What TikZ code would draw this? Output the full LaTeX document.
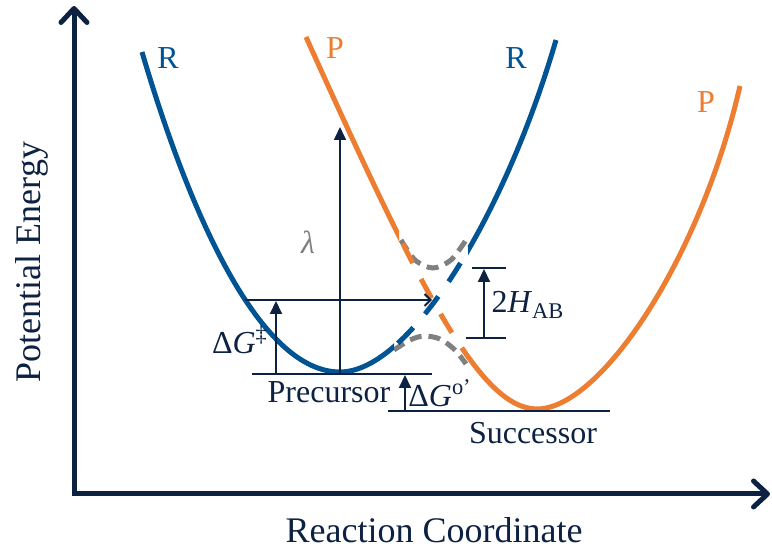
\documentclass[tikz,border=0pt]{standalone}
\usepackage{fontspec}
\setmainfont{Liberation Serif}
\usetikzlibrary{arrows.meta}
\definecolor{navy}{RGB}{13,34,66}
\definecolor{rblue}{RGB}{0,84,147}
\definecolor{porange}{RGB}{237,125,49}
\definecolor{tgray}{RGB}{128,128,128}
\tikzset{
  axisline/.style={line width=2.5pt, navy, line join=miter, {Straight Barb[length=7pt,width=13pt,round]}-{Straight Barb[length=7pt,width=13pt,round]}},
  curveR/.style={line width=2.5pt, rblue},
  curveP/.style={line width=2.5pt, porange},
  dsh/.style={dash pattern=on 11pt off 9pt},
  graydash/.style={line width=2.5pt, tgray, dash pattern=on 6pt off 3.5pt},
  hline/.style={line width=1pt, navy},
  uparr/.style={line width=1pt, navy, -{Triangle[length=6.5pt,width=6pt]}},
  lbl/.style={font=\fontsize{16}{18}\selectfont, text=navy, inner sep=0pt},
  axlbl/.style={font=\fontsize{18}{20}\selectfont, text=navy, inner sep=0pt}}
\newcommand{\rright}{(rmin) .. controls (410,372) and (505,215) .. (rtop)}
\newcommand{\pleft}{(ptop) .. controls (420,290) and (480,409) .. (pmin)}
\begin{document}
\begin{tikzpicture}[x=0.5pt,y=-0.5pt]
  \useasboundingbox (0,0) rectangle (772,550);
  % axes
  \coordinate (ytop) at (74,6);
  \coordinate (o) at (74,494);
  \coordinate (xend) at (770,494);
  \draw[axisline] (ytop) -- (o) -- (xend);
  \node[axlbl, rotate=90] (ylab) at (32,262) {Potential Energy};
  \node[axlbl] (xlab) at (434,530) {Reaction Coordinate};
  % avoided crossing
  \draw[graydash] plot[smooth] coordinates {(401,240) (415,260) (433,268) (451,260) (466,240)};
  \draw[graydash] plot[smooth] coordinates {(394,350) (410,340) (424,336) (440,339) (455,350) (466,364)};
  % reactant curve
  \coordinate (rtop-l) at (142,52);
  \coordinate (rmin) at (340,372);
  \coordinate (rtop) at (556,40);
  \draw[curveR] (rtop-l) .. controls (190,215) and (260,372) .. (rmin);
  \begin{scope}
    \clip (0,0) rectangle (394,550);
    \draw[curveR] \rright;
  \end{scope}
  \begin{scope}
    \clip (394,0) rectangle (468,550);
    \draw[curveR, dsh, dash phase=7pt] \rright;
  \end{scope}
  \begin{scope}
    \clip (468,0) rectangle (772,550);
    \draw[curveR] \rright;
  \end{scope}
  % product curve
  \coordinate (ptop) at (306,37);
  \coordinate (pmin) at (537,409);
  \coordinate (ptop-r) at (740,86);
  \begin{scope}
    \clip (0,0) rectangle (399,550);
    \draw[curveP] \pleft;
  \end{scope}
  \begin{scope}
    \clip (399,0) rectangle (466,550);
    \draw[curveP, dsh, dash phase=6pt] \pleft;
  \end{scope}
  \begin{scope}
    \clip (466,0) rectangle (772,550);
    \draw[curveP] \pleft;
  \end{scope}
  \draw[curveP] (pmin) .. controls (600,409) and (700,260) .. (ptop-r);
  \node[lbl, text=rblue] (rl) at (168,58) {R};
  \node[lbl, text=porange] (pl) at (335,48) {P};
  \node[lbl, text=rblue] (rr) at (516,58) {R};
  \node[lbl, text=porange] (pr) at (706,102) {P};
  % levels
  \coordinate (prec-l) at (252,374); \coordinate (prec-r) at (432,374);
  \coordinate (succ-l) at (388,411); \coordinate (succ-r) at (610,411);
  \coordinate (ts-l) at (245,300); \coordinate (ts-r) at (432,300);
  \draw[hline] (prec-l) -- (prec-r);
  \draw[hline] (succ-l) -- (succ-r);
  \draw[hline, -{Straight Barb[length=3pt,width=6pt]}] (ts-l) -- (ts-r);
  \node[lbl] (prec) at (329,392) {Precursor};
  \node[lbl] (succ) at (533,433) {Successor};
  % arrows
  \coordinate (lam-b) at (340,374); \coordinate (lam-t) at (340,127);
  \draw[uparr, line width=0.8pt] (lam-b) -- (lam-t);
  \node[lbl, text=tgray] (lam) at (308,242) {\textit{λ}};
  \coordinate (dgts-b) at (276,374); \coordinate (dgts-t) at (276,301);
  \draw[uparr] (dgts-b) -- (dgts-t);
  \node[lbl] (dgts) at (240,340) {Δ\textit{G}\textsuperscript{‡}};
  \coordinate (dg0-b) at (405,411); \coordinate (dg0-t) at (405,375);
  \draw[uparr] (dg0-b) -- (dg0-t);
  \node[lbl] (dg0) at (440,393) {Δ\textit{G}\textsuperscript{o’}};
  \coordinate (hab-tl) at (472,268); \coordinate (hab-tr) at (506,268);
  \coordinate (hab-bl) at (466,338); \coordinate (hab-br) at (506,338);
  \coordinate (hab-b) at (484,338); \coordinate (hab-t) at (484,269);
  \draw[hline] (hab-tl) -- (hab-tr);
  \draw[hline] (hab-bl) -- (hab-br);
  \draw[uparr] (hab-b) -- (hab-t);
  \node[lbl] (hab) at (528,305) {2\textit{H}\textsubscript{AB}};
\end{tikzpicture}
\end{document}
